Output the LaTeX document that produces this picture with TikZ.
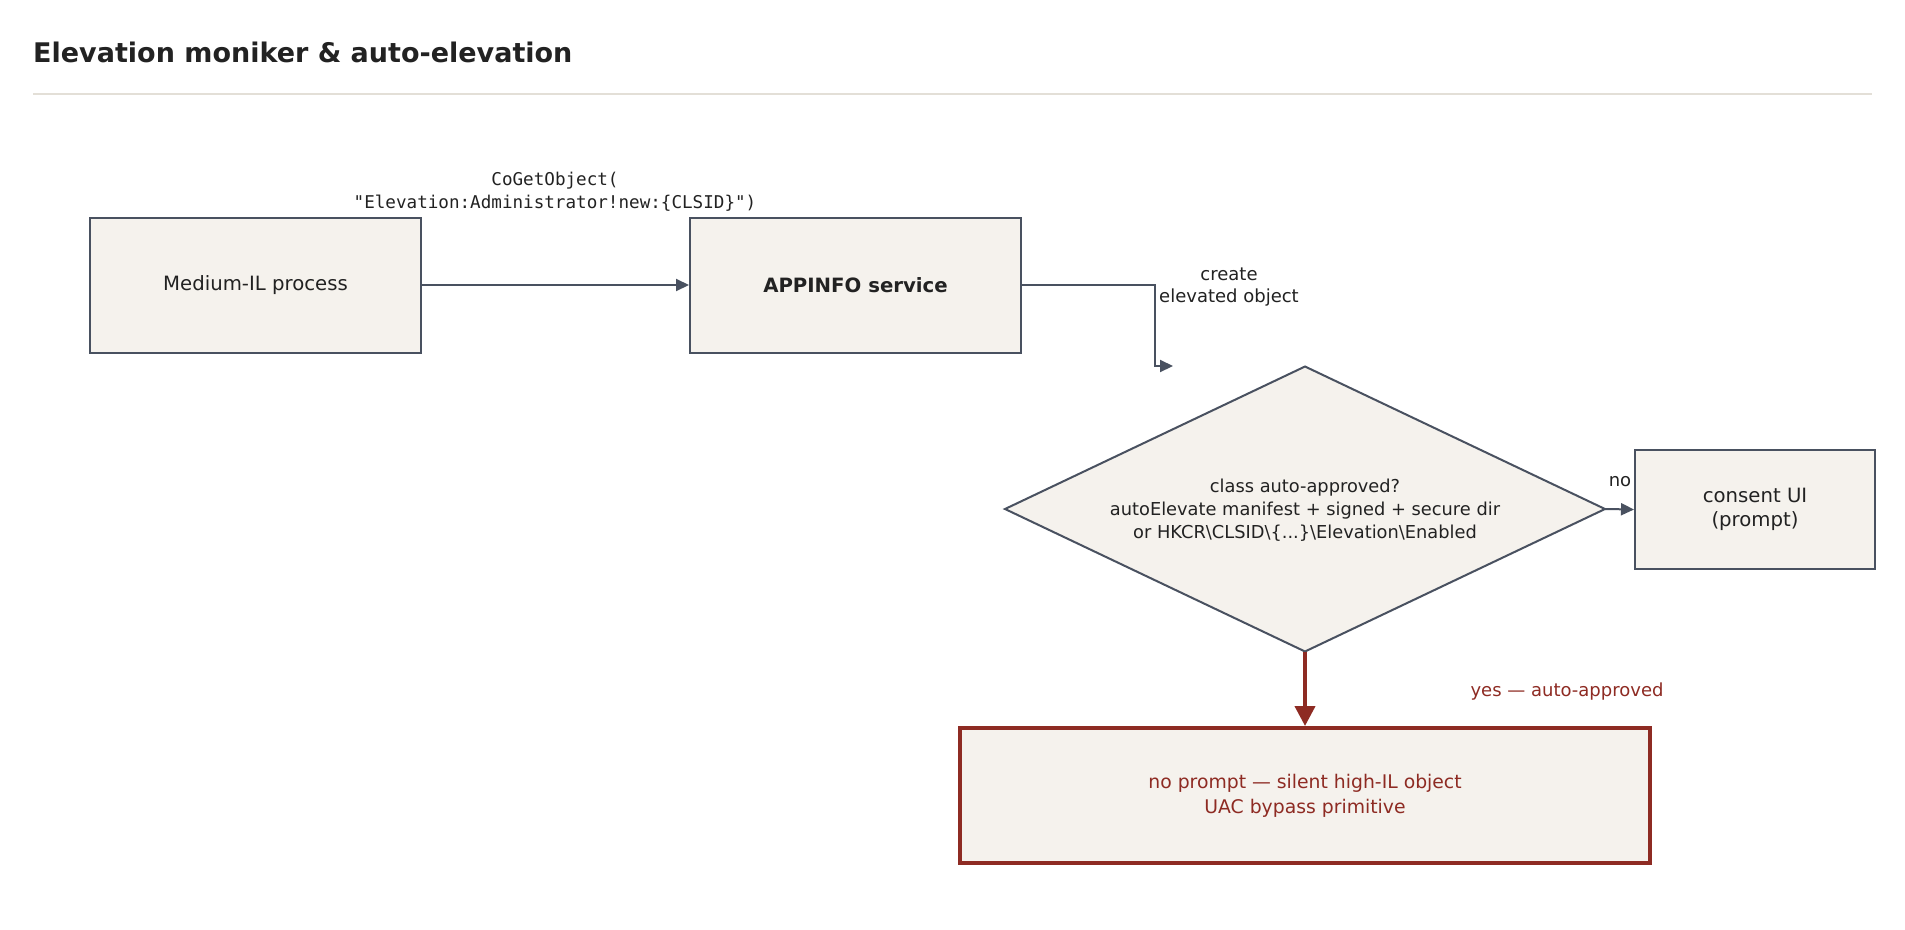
\documentclass[tikz,border=0pt]{standalone}
\usepackage{fontspec}
\setmainfont{DejaVu Sans}
\setmonofont{DejaVu Sans Mono}
\usetikzlibrary{arrows.meta,shapes.geometric}
\definecolor{stroke}{HTML}{495160}
\definecolor{boxfill}{HTML}{F5F2ED}
\definecolor{accent}{HTML}{8E2B23}
\definecolor{ink}{HTML}{222222}
\definecolor{rule}{HTML}{E3DFD7}
\tikzset{
  x=1pt, y=-1pt,
  box/.style={draw=stroke, fill=boxfill, line width=2pt, inner sep=0pt, text=ink, align=center,
    font=\fontsize{19.7}{24.5}\selectfont},
  redbox/.style={draw=accent, fill=boxfill, line width=4pt, inner sep=0pt, text=accent, align=center,
    font=\fontsize{18.8}{25}\selectfont},
  conn/.style={draw=stroke, line width=2pt, -{Triangle[length=13pt,width=12pt]}},
  redconn/.style={draw=accent, line width=4pt, -{Triangle[length=20pt,width=20pt]}},
  lbl/.style={text=ink, align=center, font=\fontsize{18}{22.5}\selectfont, inner sep=0pt},
  monolbl/.style={text=ink, align=center, font=\ttfamily\fontsize{17.6}{23}\selectfont, inner sep=0pt},
}
\begin{document}
\begin{tikzpicture}
\useasboundingbox[fill=white] (0,0) rectangle (1905,929);
% title
\node[anchor=base west, text=ink, font=\bfseries\fontsize{27}{31}\selectfont, inner sep=0pt] (title) at (33,62) {Elevation moniker \& auto-elevation};
\draw[rule, line width=2pt] (33,94) coordinate (r1) -- (1872,94) coordinate (r2);
% boxes
\node[box, minimum width=331pt, minimum height=135pt] (med) at (255.5,285) {Medium-IL process};
\node[box, minimum width=331pt, minimum height=135pt, font=\bfseries\fontsize{19.7}{24.5}\selectfont] (app) at (855.5,285) {APPINFO service};
\node[draw=stroke, fill=boxfill, line width=2pt, diamond, aspect=2.105, inner sep=0pt, outer sep=0pt,
      minimum width=600pt, minimum height=285pt] (dec) at (1305,509) {};
\node[lbl, font=\fontsize{17.8}{23}\selectfont] (dectext) at (1305,510) {class auto-approved?\\autoElevate manifest + signed + secure dir\\or HKCR\textbackslash CLSID\textbackslash\{...\}\textbackslash Elevation\textbackslash Enabled};
\node[box, minimum width=240pt, minimum height=119pt] (consent) at (1755,509.5) {consent UI\\(prompt)};
\node[redbox, minimum width=690pt, minimum height=135pt] (res) at (1305,795.5) {no prompt — silent high-IL object\\UAC bypass primitive};
% connectors
\draw[conn] (med.east) -- (app.west);
\node[monolbl] (cgo) at (555,192) {CoGetObject(\\"Elevation:Administrator!new:\{CLSID\}")};
\coordinate (tipA) at (1173,366);
\draw[conn] (app.east) -- (1155,285) -- (1155,366) -- (tipA);
\node[lbl] (create) at (1229,287) {create\\elevated object};
\draw[conn] (dec.east) -- (consent.west);
\node[lbl, anchor=south] (no) at (1620,487) {no};
\draw[redconn] (dec.south) -- (res.north);
\node[lbl, text=accent] (yes) at (1567,692) {yes — auto-approved};
\end{tikzpicture}
\end{document}
